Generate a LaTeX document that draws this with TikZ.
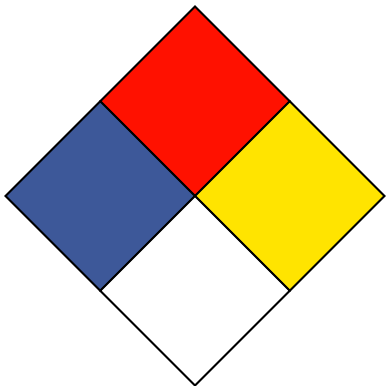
\documentclass[tikz,border=0pt]{standalone}
\usepackage{tikz}
\usetikzlibrary{calc}
\definecolor{healthblue}{RGB}{61,88,153}
\definecolor{firered}{RGB}{255,17,0}
\definecolor{reactyellow}{RGB}{255,228,0}
\definecolor{specialwhite}{RGB}{255,255,255}

\begin{document}
\begin{tikzpicture}[x=0.5mm, y=-0.5mm,
    quadrant/.style={draw=black, line width=2.6pt, line join=miter}]
    \useasboundingbox (0,0) rectangle (386,386);

    % Centre and half diagonal of the diamond
    \coordinate (C) at (195,196);
    \def\hd{94.75}

    % Corner points of the four squares
    \coordinate (T)  at ($(C)+(0,-2*\hd)$);
    \coordinate (B)  at ($(C)+(0,2*\hd)$);
    \coordinate (L)  at ($(C)+(-2*\hd,0)$);
    \coordinate (R)  at ($(C)+(2*\hd,0)$);
    \coordinate (TL) at ($(C)+(-\hd,-\hd)$);
    \coordinate (TR) at ($(C)+(\hd,-\hd)$);
    \coordinate (BL) at ($(C)+(-\hd,\hd)$);
    \coordinate (BR) at ($(C)+(\hd,\hd)$);

    % Flammability (top)
    \draw[quadrant, fill=firered] (T) -- (TR) -- (C) -- (TL) -- cycle;
    % Health (left)
    \draw[quadrant, fill=healthblue] (TL) -- (C) -- (BL) -- (L) -- cycle;
    % Instability (right)
    \draw[quadrant, fill=reactyellow] (TR) -- (R) -- (BR) -- (C) -- cycle;
    % Special (bottom)
    \draw[quadrant, fill=specialwhite] (C) -- (BR) -- (B) -- (BL) -- cycle;
\end{tikzpicture}
\end{document}
